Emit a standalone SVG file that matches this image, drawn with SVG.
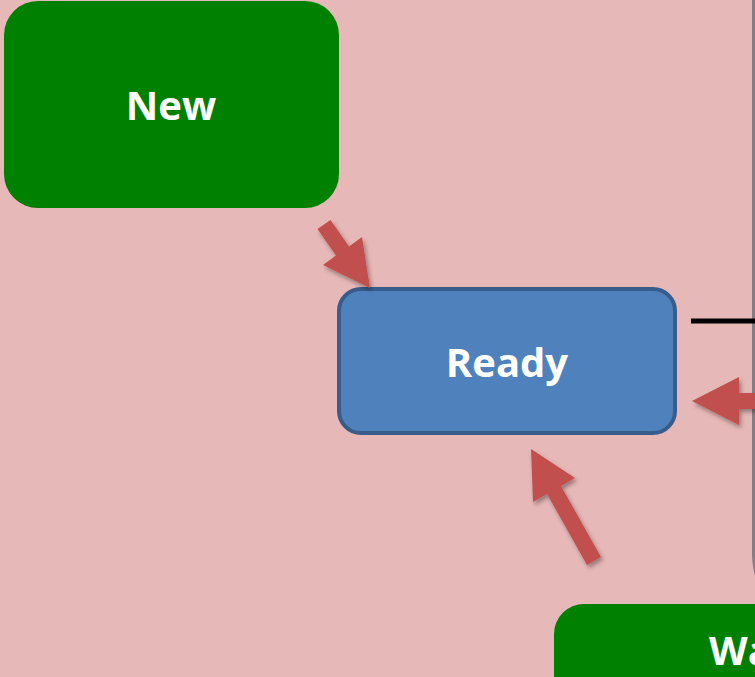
<svg xmlns="http://www.w3.org/2000/svg" width="755" height="677" viewBox="0 0 755 677">
  <style>
    .green { fill: #008000; }
    .blue { fill: #4F81BD; stroke: #385D8A; stroke-width: 4; }
    .label { font-family: "Open Sans", "Noto Sans", "Liberation Sans", sans-serif; font-weight: bold; font-size: 40px; fill: #FFFFFF; text-anchor: middle; }
    .arrow { fill: #C0504D; filter: url(#shadow); }
  </style>
  <defs>
    <filter id="shadow" x="-30%" y="-30%" width="160%" height="160%">
      <feDropShadow dx="2" dy="3" stdDeviation="2" flood-color="#000000" flood-opacity="0.35"/>
    </filter>
  </defs>
  <rect x="0" y="0" width="755" height="677" fill="#E6B8B7"/>
  <path d="M753.5,0 V555 Q754,568 757,577" fill="none" stroke="#808080" stroke-width="3"/>

  <g id="node-new">
    <rect class="green" x="4" y="1" width="335" height="207" rx="34" ry="34"/>
    <text class="label" x="171" y="120">New</text>
  </g>

  <g id="node-ready">
    <rect class="blue" x="339" y="289" width="336" height="144" rx="22" ry="22"/>
    <text class="label" x="507" y="377">Ready</text>
  </g>

  <g id="node-waiting">
    <rect class="green" x="554" y="604" width="240" height="120" rx="30" ry="30"/>
    <text class="label" x="709" y="665" style="text-anchor:start">Wa</text>
  </g>

  <g id="connectors">
    <polygon class="arrow" points="317.5,229.1 330.5,219.9 349,246.4 362,237 370,288 323,265 336,255.6"/>
    <polygon class="arrow" points="587,565 547,493.9 533,502 531,449 575,478 561,486.1 601,557"/>
    <polygon class="arrow" points="692,401 739,377 739,393 760,393 760,409 739,409 739,425"/>
    <line x1="691" y1="321" x2="755" y2="321" stroke="#000000" stroke-width="5"/>
  </g>
</svg>
